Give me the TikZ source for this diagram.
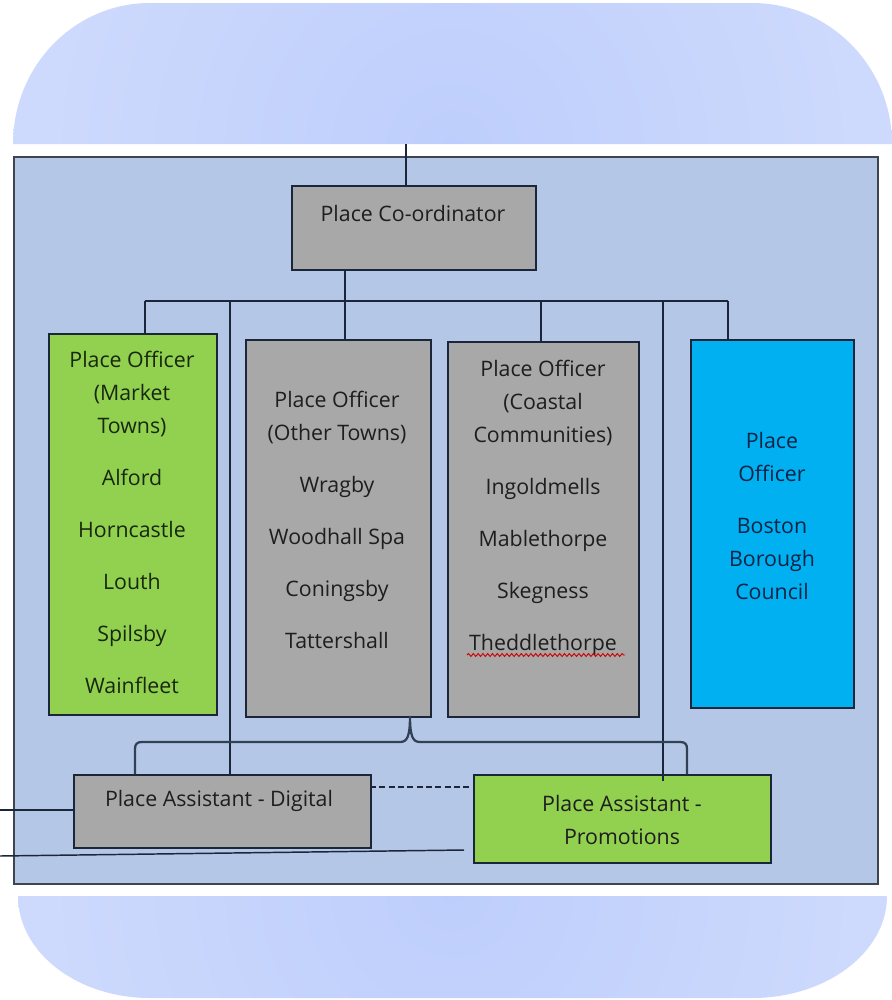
\documentclass[tikz,border=0pt]{standalone}
\usepackage{fontspec}
\setmainfont{Open Sans}
\usetikzlibrary{decorations.pathmorphing}

\definecolor{blobLight}{RGB}{216,226,253}
\definecolor{blobDeep}{RGB}{190,206,252}
\definecolor{panelFill}{RGB}{181,199,230}
\definecolor{panelEdge}{RGB}{62,68,80}
\definecolor{lineDark}{RGB}{28,38,58}
\definecolor{braceGrey}{RGB}{50,64,86}
\definecolor{boxGrey}{RGB}{168,168,168}
\definecolor{boxGreen}{RGB}{146,208,80}
\definecolor{boxBlue}{RGB}{0,176,240}
\definecolor{txtGrey}{RGB}{30,30,30}
\definecolor{txtGreen}{RGB}{24,40,14}
\definecolor{txtBlue}{RGB}{12,36,70}

\begin{document}
\begin{tikzpicture}[x=0.75pt,y=0.75pt,yscale=-1,xscale=1,
  box/.style={draw=lineDark,line width=1.3pt,anchor=north west,inner sep=0pt},
  txt/.style={align=center,inner sep=0.75pt,font=\fontsize{16}{24.75}\selectfont},
  link/.style={draw=lineDark,line width=1.1pt},
  brace/.style={draw=braceGrey,line width=1.7pt},
  spell/.style={draw=red!80!black,line width=0.7pt,decorate,decoration={snake,amplitude=1.1pt,segment length=3.6pt}}]
\useasboundingbox (0,0) rectangle (892,1000);

%Shape: top blob
\begin{scope}
\clip (13,144) .. controls (13,66.1) and (74.3,3) .. (150,3) -- (752,3) .. controls (829.3,3) and (892,66.1) .. (892,144) -- cycle ;
\shade [inner color=blobDeep,outer color=blobLight] (-248,-550) rectangle (1152,850) ;
\end{scope}
%Shape: bottom blob
\begin{scope}
\clip (18,896) -- (887,896) .. controls (887,952.3) and (826.6,998) .. (752,998) -- (150,998) .. controls (77.1,998) and (18,952.3) .. (18,896) -- cycle ;
\shade [inner color=blobDeep,outer color=blobLight] (-248,190) rectangle (1152,1590) ;
\end{scope}

%Shape: panel
\draw [draw=panelEdge,line width=1.3pt,fill=panelFill] (14,157) rectangle (878,884) ;

%Boxes
\node [box,fill=boxGrey,minimum width=183pt,minimum height=63pt] (coord) at (291,185) {};
\node [box,fill=boxGreen,minimum width=126pt,minimum height=285.75pt] (po1) at (48,333) {};
\node [box,fill=boxGrey,minimum width=138.75pt,minimum height=282.75pt] (po2) at (245,339) {};
\node [box,fill=boxGrey,minimum width=143.25pt,minimum height=281.25pt] (po3) at (447,341) {};
\node [box,fill=boxBlue,minimum width=122.25pt,minimum height=276pt] (po4) at (690,339) {};
\node [box,fill=boxGrey,minimum width=222.75pt,minimum height=54.75pt] (dig) at (73,774) {};
\node [box,fill=boxGreen,minimum width=222.75pt,minimum height=66pt] (promo) at (473,774) {};

% Text Node
\node [txt,text=txtGrey] (coordtxt) at (413,213) {Place Co-ordinator};
% Text Node
\node [txt,text=txtGreen] (po1txt) at (132,522) {Place Officer\\(Market\\Towns)\\[14.25pt]Alford\\[14.25pt]Horncastle\\[14.25pt]Louth\\[14.25pt]Spilsby\\[14.25pt]Wainfleet};
% Text Node
\node [txt,text=txtGrey] (po2txt) at (337,520) {Place Officer\\(Other Towns)\\[14.25pt]Wragby\\[14.25pt]Woodhall Spa\\[14.25pt]Coningsby\\[14.25pt]Tattershall};
% Text Node
\node [txt,text=txtGrey] (po3txt) at (543,508) {Place Officer\\(Coastal\\Communities)\\[14.25pt]Ingoldmells\\[14.25pt]Mablethorpe\\[14.25pt]Skegness\\[14.25pt]Theddlethorpe};
% Text Node
\node [txt,text=txtBlue] (po4txt) at (772,516) {Place\\Officer\\[14.25pt]Boston\\Borough\\Council};
% Text Node
\node [txt,text=txtGrey] (digtxt) at (219,801) {Place Assistant - Digital};
% Text Node
\node [txt,text=txtGrey] (promotxt) at (622,820) {Place Assistant -\\Promotions};

%Spell mark
\coordinate (spellA) at (467,655);
\coordinate (spellB) at (625,655);
\draw [spell] (spellA) -- (spellB) ;

%Connectors
\coordinate (feed) at (406,144);
\coordinate (b1) at (145,301);
\coordinate (b2) at (345,301);
\coordinate (b3) at (541,301);
\coordinate (b4) at (728,301);
\coordinate (bd) at (230,301);
\coordinate (bp) at (663,301);
\coordinate (pend) at (663,781);
\draw [link] (feed) -- (feed |- coord.north) ;
\draw [link] (b2) -- (b2 |- coord.south) ;
\draw [link] (b1) -- (b4) ;
\foreach \b/\n in {b1/po1,b2/po2,b3/po3,b4/po4}
  \draw [link] (\b) -- (\b |- \n.north) ;
\draw [link] (bd) -- (bd |- dig.north) ;
\draw [link] (bp) -- (pend) ;

%Brace
\coordinate (brL) at (135,774);
\coordinate (brR) at (687,774);
\coordinate (brTip) at (410,716);
\draw [brace] (brL) -- (135,749) .. controls (135,744) and (137,742) .. (142,742) -- (400,742) .. controls (407,742) and (410,737) .. (brTip) .. controls (410,737) and (413,742) .. (420,742) -- (680,742) .. controls (685,742) and (687,744) .. (687,749) -- (brR) ;

%Dashed link
\coordinate (dsh) at (370,787);
\draw [link,dash pattern=on 4.5pt off 2.5pt] (dsh) -- (dsh -| promo.west) ;

%Lines to the left edge
\coordinate (outA) at (0,810);
\coordinate (outB) at (0,856);
\coordinate (outBend) at (464,850);
\draw [link] (outA) -- (outA -| dig.west) ;
\draw [link] (outB) -- (outBend) ;

\end{tikzpicture}
\end{document}
